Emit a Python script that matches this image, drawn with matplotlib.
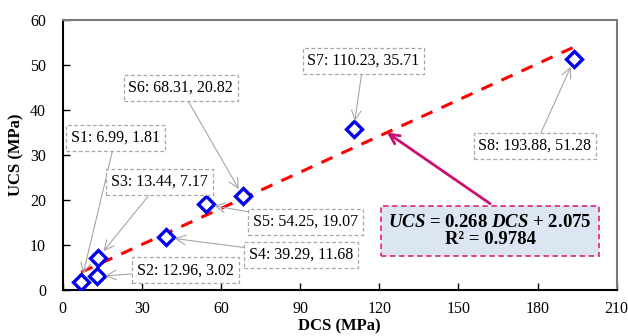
import matplotlib.pyplot as plt
import numpy as np

plt.rcParams['font.family'] = ['Liberation Serif', 'DejaVu Serif']
plt.rcParams['mathtext.fontset'] = 'custom'
plt.rcParams['mathtext.rm'] = 'Liberation Serif'
plt.rcParams['mathtext.it'] = 'Liberation Serif:italic'
plt.rcParams['mathtext.bf'] = 'Liberation Serif:bold:italic'

# sample data (DCS, UCS in MPa)
names = ["S1", "S2", "S3", "S4", "S5", "S6", "S7", "S8"]
dcs = [6.99, 12.96, 13.44, 39.29, 54.25, 68.31, 110.23, 193.88]
ucs = [1.81, 3.02, 7.17, 11.68, 19.07, 20.82, 35.71, 51.28]
slope = 0.268
intercept = 2.075
r2 = 0.9784

# label box centres (layout only)
label_pos = [(20, 33.8), (46.5, 4.4), (36.7, 24.0), (90.4, 7.8),
             (92.0, 15.1), (44.7, 44.9), (114.0, 50.9), (179.0, 32.0)]

fig = plt.figure(figsize=(6.28, 3.36), dpi=100)
ax = fig.add_axes([0.100, 0.137, 0.882, 0.803])

# trend line
xs = np.array([min(dcs), max(dcs)])
ax.plot(xs, slope * xs + intercept, color='#ff0000', ls=(0, (4, 3.2)), lw=2.2, zorder=2)

ax.plot(dcs, ucs, ls='none', marker='D', ms=8, mfc='white', mec='#0000ee', mew=2.4, zorder=3)

for n, x, y, (tx, ty) in zip(names, dcs, ucs, label_pos):
    ax.annotate(f"{n}: {x:.2f}, {y:.2f}", xy=(x, y), xytext=(tx, ty),
                ha='center', va='center', fontsize=11.5,
                bbox=dict(boxstyle='square,pad=0.3', fc='white', ec='#a6a6a6', ls=(0, (3, 2)), lw=0.9),
                arrowprops=dict(arrowstyle='->,head_length=0.6,head_width=0.3', color='#a6a6a6', lw=0.8,
                                shrinkA=0, shrinkB=6),
                zorder=4)

# equation box with arrow to the line
ax.annotate('', xy=(122.9, slope * 122.9 + intercept), xytext=(162, 19.2),
            arrowprops=dict(arrowstyle='->,head_length=0.7,head_width=0.35', color='#cc0f6e', lw=2,
                            shrinkA=0, shrinkB=0), zorder=4)
ax.text(162, 13.1, r"$\mathbf{UCS}$ = 0.268 $\mathbf{DCS}$ + 2.075" + "\n" + f"R² = {r2:.4f}",
        ha='center', va='center', fontsize=13.5, fontweight='bold', linespacing=1.05,
        bbox=dict(boxstyle='square,pad=0.4', fc='#dce6f2', ec='#e0307f', ls=(0, (3, 2)), lw=1.3),
        zorder=5)

ax.set_xlim(0, 210)
ax.set_ylim(0, 60)
ax.set_xticks(np.arange(0, 211, 30))
ax.set_yticks(np.arange(0, 61, 10))
ax.tick_params(direction='in', length=5, width=1, labelsize=11.5)
ax.tick_params(axis='x', pad=8)
ax.tick_params(axis='y', pad=12)
for s in ['left', 'bottom']:
    ax.spines[s].set_color('black')
    ax.spines[s].set_linewidth(1.5)
for s in ['top', 'right']:
    ax.spines[s].set_color('#7a7a7a')
    ax.spines[s].set_linewidth(1.5)

ax.set_xlabel('DCS (MPa)', fontsize=12, fontweight='bold', labelpad=1)
ax.set_ylabel('UCS (MPa)', fontsize=12, fontweight='bold', labelpad=4)

fig.savefig('out.png', dpi=100)
